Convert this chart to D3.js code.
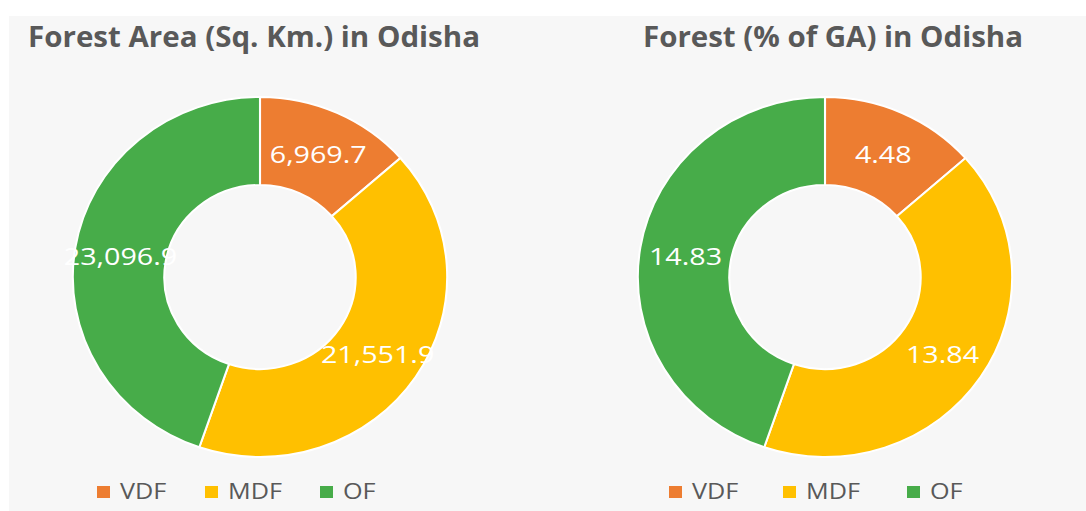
<!DOCTYPE html>
<html>
<head>
<meta charset="utf-8">
<script src="https://cdn.jsdelivr.net/npm/d3@7"></script>
<style>
  body { margin: 0; background: #fff; }
  text { font-family: "Open Sans", "Noto Sans", sans-serif; }
</style>
</head>
<body>
<svg id="chart" width="1086" height="511"></svg>
<script>
var categories = ["VDF", "MDF", "OF"];
var areaValues = [6969.7, 21551.9, 23096.9];
var areaLabels = ["6,969.7", "21,551.9", "23,096.9"];
var pctValues = [4.48, 13.84, 14.83];
var pctLabels = ["4.48", "13.84", "14.83"];
var titles = ["Forest Area (Sq. Km.) in Odisha", "Forest (% of GA) in Odisha"];
var colors = ["#ed7d31", "#ffc000", "#47ac49"];

var svg = d3.select("#chart"),
    width = +svg.attr("width"),
    height = +svg.attr("height");

// light panel behind both charts
svg.append("rect")
    .attr("x", 9).attr("y", 16)
    .attr("width", width - 9).attr("height", height - 16)
    .attr("fill", "#f7f7f7");

var color = d3.scaleOrdinal().domain(categories).range(colors);

var outerR = 180, innerR = 92, sx = 1.04, textSx = 1.2;

var pie = d3.pie().sort(null).value(function (d) { return d.value; });
var arc = d3.arc().innerRadius(innerR).outerRadius(outerR);

var charts = [
    { title: titles[0], values: areaValues, labels: areaLabels, cx: 260, cy: 277,
      tx: 28, tw: 452, lx: 97, legX: [0, 108, 223] },
    { title: titles[1], values: pctValues, labels: pctLabels, cx: 825, cy: 277,
      tx: 643, tw: 380, lx: 669, legX: [0, 114, 238] }
];

charts.forEach(function (c) {
    var data = categories.map(function (k, i) {
        return { key: k, value: c.values[i], label: c.labels[i] };
    });

    svg.append("text")
        .attr("x", c.tx).attr("y", 47)
        .attr("font-size", "28px")
        .attr("font-weight", 700)
        .attr("fill", "#595959")
        .attr("textLength", c.tw)
        .attr("lengthAdjust", "spacingAndGlyphs")
        .text(c.title);

    var g = svg.append("g")
        .attr("transform", "translate(" + c.cx + "," + c.cy + ")");

    g.append("g")
        .attr("transform", "scale(" + sx + ",1)")
        .selectAll("path")
        .data(pie(data))
        .enter().append("path")
        .attr("d", arc)
        .attr("fill", function (d) { return color(d.data.key); })
        .attr("stroke", "#fff")
        .attr("stroke-width", 2);

    g.selectAll(".lbl")
        .data(pie(data))
        .enter().append("text")
        .attr("class", "lbl")
        .attr("transform", function (d) {
            var p = arc.centroid(d);
            return "translate(" + (p[0] * sx) + "," + (p[1] + 2) + ") scale(" + (textSx * 1.04) + ",1)";
        })
        .attr("dy", "0.35em")
        .attr("text-anchor", "middle")
        .attr("font-size", "23px")
        .attr("fill", "#fff")
        .text(function (d) { return d.data.label; });

    // legend
    var leg = svg.append("g")
        .attr("transform", "translate(" + c.lx + ",492)");
    var item = leg.selectAll("g")
        .data(categories)
        .enter().append("g")
        .attr("transform", function (d, i) { return "translate(" + c.legX[i] + ",0)"; });
    item.append("rect")
        .attr("x", 0).attr("y", -6)
        .attr("width", 13).attr("height", 12)
        .attr("fill", function (d) { return color(d); });
    item.append("text")
        .attr("transform", "translate(23,0) scale(" + textSx + ",1)")
        .attr("dy", "0.35em")
        .attr("font-size", "21px")
        .attr("fill", "#595959")
        .text(function (d) { return d; });
});
</script>
</body>
</html>
